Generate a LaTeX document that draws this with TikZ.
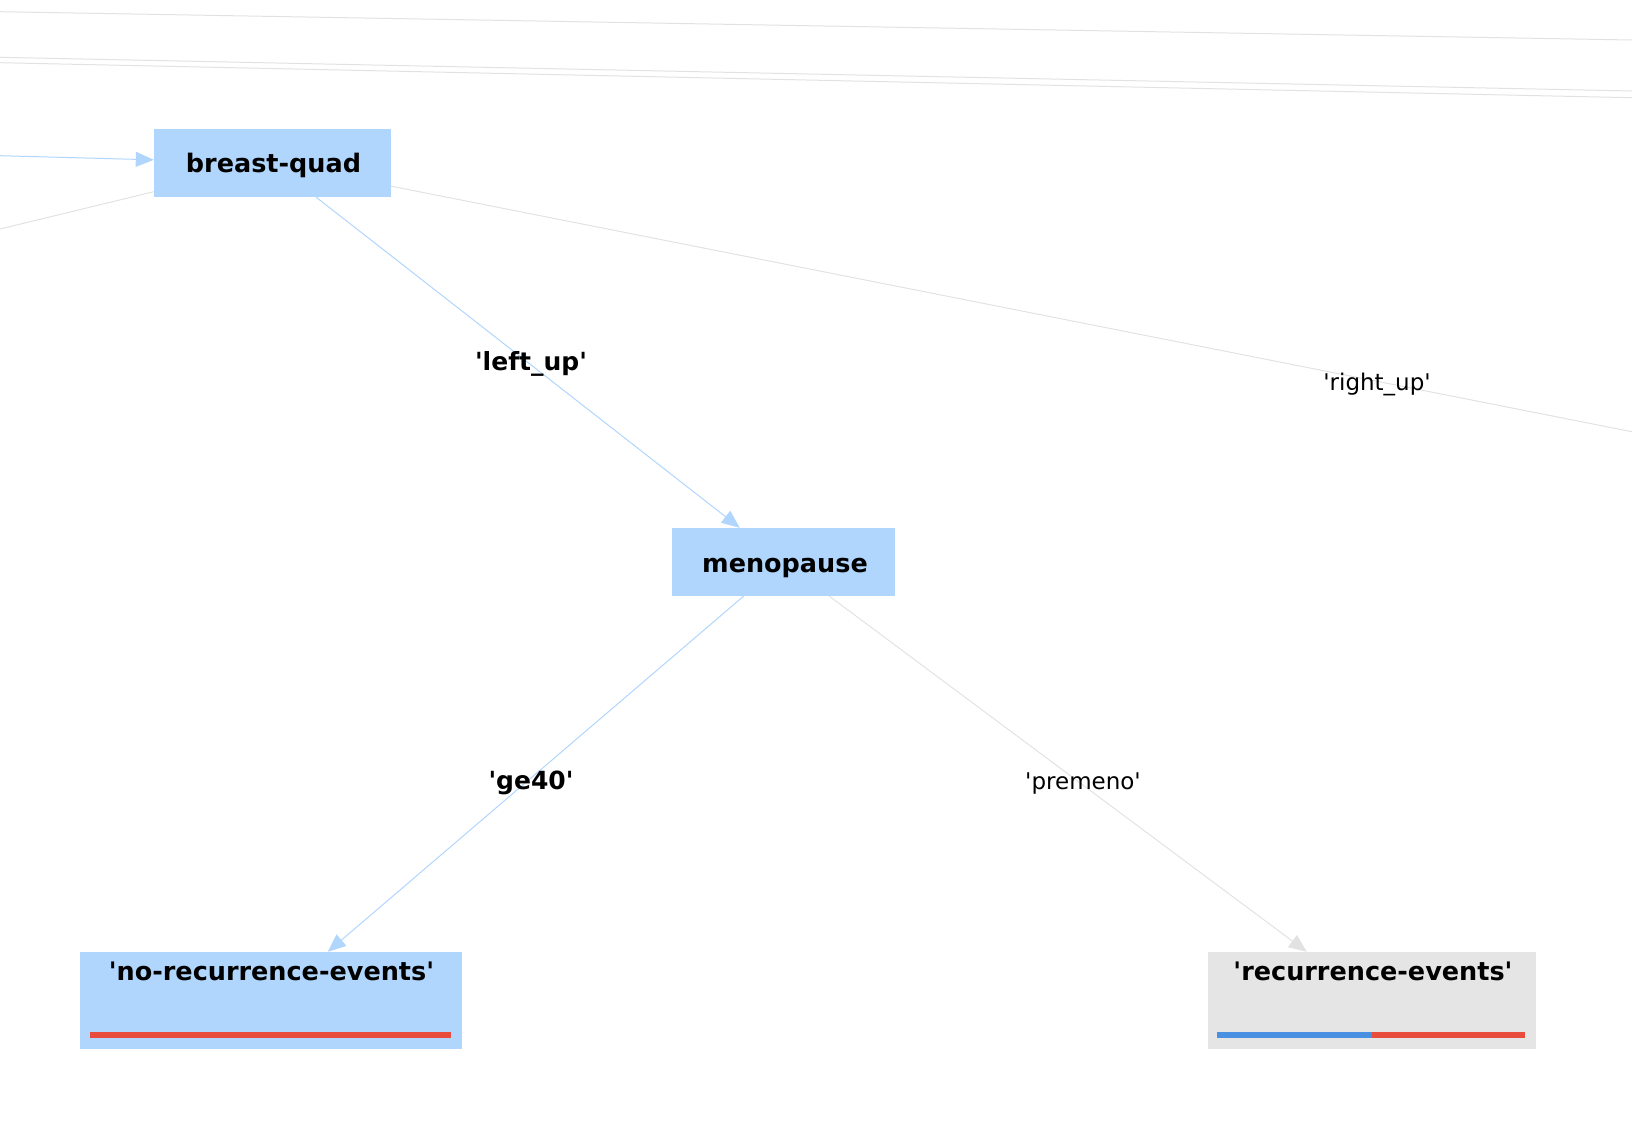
\documentclass[tikz,border=0pt]{standalone}
\usepackage{fontspec}
\setmainfont{DejaVu Sans}
\newfontfamily\dvfont{DejaVu Sans}
\usetikzlibrary{arrows.meta}
\definecolor{nodeblue}{RGB}{176,214,253}
\definecolor{nodegray}{RGB}{229,229,229}
\definecolor{edgeblue}{RGB}{176,214,253}
\definecolor{edgegray}{RGB}{226,226,226}
\definecolor{barred}{RGB}{231,76,60}
\definecolor{barblue}{RGB}{74,144,226}
\tikzset{
  box/.style={rectangle, inner sep=0pt, draw=none},
  bluebox/.style={box, fill=nodeblue},
  graybox/.style={box, fill=nodegray},
  boxtext/.style={font=\dvfont\fontsize{25.5}{30}\selectfont\bfseries, text=black, inner sep=0pt, anchor=base},
  bluelink/.style={draw=edgeblue, line width=1pt},
  graylink/.style={draw=edgegray, line width=1pt},
  bluearrow/.style={bluelink, -{Triangle[length=18pt,width=15pt,fill=edgeblue]}},
  grayarrow/.style={graylink, -{Triangle[length=18pt,width=15pt,fill=edgegray]}},
  boldlabel/.style={font=\dvfont\fontsize{25}{30}\selectfont\bfseries, text=black, inner sep=0pt, anchor=base},
  plainlabel/.style={font=\dvfont\fontsize{23}{28}\selectfont, text=black, inner sep=0pt, anchor=base}
}
\begin{document}
\begin{tikzpicture}[x=1pt,y=-1pt]
\useasboundingbox (0,0) rectangle (1632,1136);
\clip (0,0) rectangle (1632,1136);
% top passing edges
\coordinate (tA1) at (0,11.7);   \coordinate (tA2) at (1632,40);
\coordinate (tB1) at (0,57.3);   \coordinate (tB2) at (1632,91);
\coordinate (tC1) at (0,62.7);   \coordinate (tC2) at (1632,97.7);
\draw[graylink] (tA1) -- (tA2);
\draw[graylink] (tB1) -- (tB2);
\draw[graylink] (tC1) -- (tC2);
% nodes
\node[bluebox, minimum width=237pt, minimum height=68pt] (bq) at (272.5,163) {};
\node[boxtext] (bqT) at (273.5,172) {breast-quad};
\node[bluebox, minimum width=223pt, minimum height=68pt] (meno) at (783.5,562) {};
\node[boxtext] (menoT) at (785,572.5) {menopause};
\node[bluebox, minimum width=382pt, minimum height=97pt] (norec) at (271,1000.5) {};
\node[boxtext] (norecT) at (271.5,980) {'no-recurrence-events'};
\node[graybox, minimum width=328pt, minimum height=97pt] (rec) at (1372,1000.5) {};
\node[boxtext] (recT) at (1373,980) {'recurrence-events'};
% bars
\fill[barred] (89.5,1032) rectangle (451,1038);
\fill[barblue] (1217,1032) rectangle (1372,1038);
\fill[barred] (1372,1032) rectangle (1525,1038);
% off-screen ends
\coordinate (inL) at (0,155.7);
\coordinate (outL) at (0,229);
\coordinate (rt) at (2361,576);
% edges
\draw[bluearrow] (inL) -- (bq);
\draw[graylink] (bq) -- (outL);
\draw[graylink] (bq) -- (rt);
\draw[bluearrow] (bq) -- (meno);
\draw[bluearrow] (meno) -- (norec);
\draw[grayarrow] (meno) -- (rec);
% edge labels
\node[plainlabel] (lblRU) at (1377,390) {'right\_up'};
\node[boldlabel] (lblLU) at (531,370.5) {'left\_up'};
\node[boldlabel] (lblGE) at (531,789) {'ge40'};
\node[plainlabel] (lblPM) at (1083,789) {'premeno'};
\end{tikzpicture}
\end{document}
